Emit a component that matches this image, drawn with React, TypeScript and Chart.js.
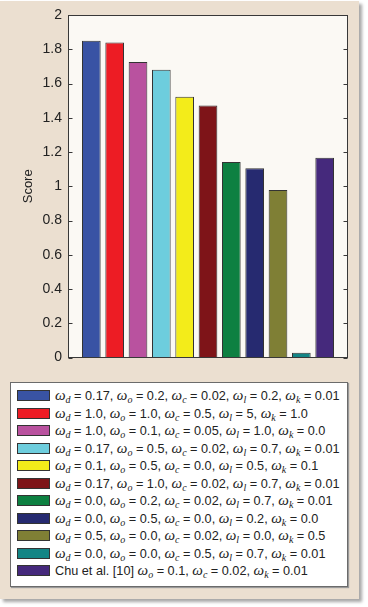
import React, { useEffect, useRef } from "react";
import { Chart, registerables } from "chart.js";

Chart.register(...registerables);

// ---- data ----
const categories = ["", "1", "2", "3", "4", "5", "6", "7", "8", "9", "10", "11", ""];
const scores = [null, 1.85, 1.839, 1.725, 1.68, 1.523, 1.472, 1.142, 1.106, 0.979, 0.028, 1.167, null];
const barColors = [
  "#00000000",
  "#3953a4",
  "#ed1c24",
  "#b9529f",
  "#6dcddd",
  "#f3ec1a",
  "#7e1418",
  "#0d8041",
  "#262a70",
  "#7f7f35",
  "#138585",
  "#45297c",
  "#00000000",
];
const legendLabels = [
  "ω_d = 0.17, ω_o = 0.2, ω_c = 0.02, ω_l = 0.2, ω_k = 0.01",
  "ω_d = 1.0, ω_o = 1.0, ω_c = 0.5, ω_l = 5, ω_k = 1.0",
  "ω_d = 1.0, ω_o = 0.1, ω_c = 0.05, ω_l = 1.0, ω_k = 0.0",
  "ω_d = 0.17, ω_o = 0.5, ω_c = 0.02, ω_l = 0.7, ω_k = 0.01",
  "ω_d = 0.1, ω_o = 0.5, ω_c = 0.0, ω_l = 0.5, ω_k = 0.1",
  "ω_d = 0.17, ω_o = 1.0, ω_c = 0.02, ω_l = 0.7, ω_k = 0.01",
  "ω_d = 0.0, ω_o = 0.2, ω_c = 0.02, ω_l = 0.7, ω_k = 0.01",
  "ω_d = 0.0, ω_o = 0.5, ω_c = 0.0, ω_l = 0.2, ω_k = 0.0",
  "ω_d = 0.5, ω_o = 0.0, ω_c = 0.02, ω_l = 0.0, ω_k = 0.5",
  "ω_d = 0.0, ω_o = 0.0, ω_c = 0.5, ω_l = 0.7, ω_k = 0.01",
  "Chu et al. [10] ω_o = 0.1, ω_c = 0.02, ω_k = 0.01",
];
const yMin = 0;
const yMax = 2;
const yStep = 0.2;
const yTitle = "Score";

const SANS = "'Liberation Sans', Arial, sans-serif";
const SERIF = "'Liberation Serif', 'Times New Roman', serif";

const framePlugin = {
  id: "frame",
  beforeDatasetsDraw(chart: any) {
    const { ctx, chartArea } = chart;
    ctx.save();
    ctx.fillStyle = "#fbf9f4";
    ctx.fillRect(chartArea.left, chartArea.top, chartArea.right - chartArea.left, chartArea.bottom - chartArea.top);
    ctx.restore();
  },
  afterDatasetsDraw(chart: any) {
    const { ctx, chartArea } = chart;
    const ys = chart.scales.y;
    ctx.save();
    ctx.strokeStyle = "#383838";
    ctx.lineWidth = 1;
    const l = Math.round(chartArea.left) + 0.5;
    const r = Math.round(chartArea.right) - 0.5;
    const t = Math.round(chartArea.top) + 0.5;
    const b = Math.round(chartArea.bottom) - 0.5;
    ctx.strokeRect(l, t, r - l, b - t);
    ctx.beginPath();
    for (const tk of ys.ticks) {
      const y = Math.round(ys.getPixelForValue(tk.value)) + 0.5;
      ctx.moveTo(l, y);
      ctx.lineTo(l + 4, y);
      ctx.moveTo(r, y);
      ctx.lineTo(r - 4, y);
    }
    ctx.stroke();
    ctx.restore();
  },
};

function LegendText({ text }: { text: string }) {
  const parts = text.split(/ω_(\w)/);
  const out: any[] = [];
  parts.forEach((p, i) => {
    if (i % 2 === 0) {
      if (p) out.push(<span key={i}>{p}</span>);
    } else {
      out.push(
        <span key={i} style={{ fontFamily: SERIF, fontStyle: "italic", fontSize: 15 }}>
          ω
          <sub style={{ fontSize: 10, verticalAlign: "-3px", lineHeight: 0 }}>{p}</sub>
        </span>
      );
    }
  });
  return <span>{out}</span>;
}

export default function App() {
  const canvasRef = useRef<HTMLCanvasElement | null>(null);

  useEffect(() => {
    const canvas = canvasRef.current;
    if (!canvas) return;
    const chart = new Chart(canvas, {
      type: "bar",
      data: {
        labels: categories,
        datasets: [
          {
            data: scores as any,
            backgroundColor: barColors,
            borderColor: "#333333",
            borderWidth: 1,
            categoryPercentage: 0.8,
            barPercentage: 1,
          },
        ],
      },
      options: {
        responsive: false,
        animation: false,
        layout: { padding: { left: 0, top: 15, right: 12, bottom: 5 } },
        plugins: { legend: { display: false }, tooltip: { enabled: false } },
        scales: {
          x: {
            type: "category",
            offset: false,
            display: false,
            grid: { display: false },
          },
          y: {
            min: yMin,
            max: yMax,
            grid: { display: false, drawTicks: false },
            border: { display: false },
            ticks: {
              stepSize: yStep,
              padding: 6,
              color: "#222",
              font: { family: SANS, size: 14 },
              callback: (v: any) => String(Number(Number(v).toFixed(1))),
            },
            title: {
              display: true,
              text: yTitle,
              color: "#222",
              font: { family: SANS, size: 13 },
              padding: { top: 21, bottom: 0 },
            },
            afterFit: (scale: any) => {
              scale.width = 68;
            },
          },
        },
      },
      plugins: [framePlugin],
    });
    return () => chart.destroy();
  }, []);

  return (
    <div style={{ position: "fixed", left: 0, top: 0, width: 368, height: 607, background: "#fff", overflow: "hidden" }}>
      <div
        style={{
          position: "absolute",
          left: 0,
          top: 1,
          width: 359,
          height: 598,
          background: "#ebdfd0",
          boxShadow: "3px 3px 3px rgba(0,0,0,0.35)",
        }}
      />
      <canvas ref={canvasRef} width={360} height={372} style={{ position: "absolute", left: 0, top: 0, width: 360, height: 372 }} />
      <div
        style={{
          position: "absolute",
          left: 10,
          top: 382,
          width: 338,
          height: 205,
          boxSizing: "border-box",
          background: "#fff",
          border: "1px solid #6b6b6b",
          boxShadow: "1px 1px 1px #9a9a9a",
          paddingTop: 4,
          fontFamily: SANS,
          fontSize: 12.7,
          color: "#222",
        }}
      >
        {legendLabels.map((lab, i) => (
          <div key={i} style={{ height: 17.5, display: "flex", alignItems: "center", whiteSpace: "nowrap" }}>
            <div
              style={{
                marginLeft: 6,
                width: 33,
                height: 11,
                boxSizing: "border-box",
                border: "1px solid #333",
                background: barColors[i + 1],
                flex: "none",
              }}
            />
            <div style={{ marginLeft: 5 }}>
              <LegendText text={lab} />
            </div>
          </div>
        ))}
      </div>
    </div>
  );
}
